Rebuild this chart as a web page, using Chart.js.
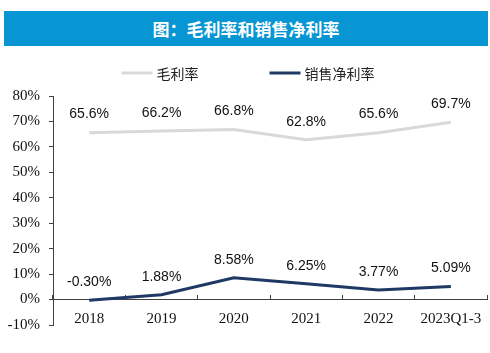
<!DOCTYPE html>
<html>
<head>
<meta charset="utf-8">
<script src="https://cdn.jsdelivr.net/npm/chart.js@4"></script>
<style>
  html, body { margin: 0; padding: 0; background: #fff; }
  #wrap { position: relative; width: 490px; height: 353px; overflow: hidden; }
  #banner {
    position: absolute; left: 4px; top: 11px; width: 484px; height: 35px;
    background: #0796d3; color: #fff; text-align: center;
    font: bold 17px "Noto Sans CJK SC", sans-serif; line-height: 35px;
    z-index: 2;
  }
  #chart { position: absolute; left: 0; top: 0; }
</style>
</head>
<body>
<div id="wrap">
  <div id="banner">图：毛利率和销售净利率</div>
  <canvas id="chart" width="490" height="353"></canvas>
</div>
<script>
// data
const years = ['2018', '2019', '2020', '2021', '2022', '2023Q1-3'];
const grossMargin = [65.6, 66.2, 66.8, 62.8, 65.6, 69.7];
const netMargin = [-0.30, 1.88, 8.58, 6.25, 3.77, 5.09];
const seriesNames = ['毛利率', '销售净利率'];
const seriesDecimals = [1, 2];

// value labels above each point
const pointLabels = {
    id: 'pointLabels',
    afterDatasetsDraw(chart) {
        const ctx = chart.ctx;
        ctx.save();
        ctx.font = '14px "Liberation Sans", Arial, sans-serif';
        ctx.fillStyle = '#111';
        ctx.textAlign = 'center';
        ctx.textBaseline = 'middle';
        chart.data.datasets.forEach((ds, i) => {
            chart.getDatasetMeta(i).data.forEach((pt, j) => {
                ctx.fillText(ds.data[j].toFixed(seriesDecimals[i]) + '%', pt.x, pt.y - 18);
            });
        });
        ctx.restore();
    }
};

// line legend above the plot
const lineLegend = {
    id: 'lineLegend',
    afterDraw(chart) {
        const ctx = chart.ctx;
        const lineW = 31, gapText = 4, gapItem = 71, y = 73;
        ctx.save();
        ctx.font = '14px "Noto Sans CJK SC", sans-serif';
        ctx.textBaseline = 'middle';
        const items = chart.data.datasets.map(ds => ({
            ds, w: lineW + gapText + ctx.measureText(ds.label).width
        }));
        const total = items.reduce((s, it) => s + it.w, 0) + gapItem * (items.length - 1);
        let x = chart.width / 2 + 3 - total / 2;
        items.forEach(it => {
            ctx.strokeStyle = it.ds.borderColor;
            ctx.lineWidth = 3;
            ctx.beginPath();
            ctx.moveTo(x, y);
            ctx.lineTo(x + lineW, y);
            ctx.stroke();
            ctx.fillStyle = '#222';
            ctx.fillText(it.ds.label, x + lineW + gapText, y + 1);
            x += it.w + gapItem;
        });
        ctx.restore();
    }
};

new Chart(document.getElementById('chart'), {
    type: 'line',
    data: {
        labels: years,
        datasets: [
            {
                label: seriesNames[0],
                data: grossMargin,
                borderColor: '#d9d9d9',
                borderWidth: 3,
                pointRadius: 0,
                tension: 0,
                fill: false
            },
            {
                label: seriesNames[1],
                data: netMargin,
                borderColor: '#1f3864',
                borderWidth: 3,
                pointRadius: 0,
                tension: 0,
                fill: false
            }
        ]
    },
    plugins: [pointLabels, lineLegend],
    options: {
        responsive: false,
        animation: false,
        layout: { padding: { top: 96, right: 3, bottom: 28, left: 0 } },
        plugins: {
            legend: { display: false },
            tooltip: { enabled: false }
        },
        scales: {
            x: {
                position: { y: 0 },
                offset: true,
                afterFit(scale) { scale.paddingLeft = 0; scale.paddingRight = 0; },
                grid: {
                    offset: true,
                    drawOnChartArea: false,
                    tickLength: -5,
                    color: '#404040'
                },
                border: { display: true, color: '#404040', width: 1 },
                ticks: {
                    padding: 16,
                    maxRotation: 0,
                    autoSkip: false,
                    color: '#111',
                    font: { family: '"Liberation Serif", "Times New Roman", serif', size: 15 }
                }
            },
            y: {
                min: -10,
                max: 80,
                afterFit(scale) { scale.width = 53; },
                grid: {
                    drawOnChartArea: false,
                    tickLength: 4,
                    color: '#404040'
                },
                border: { display: true, color: '#404040', width: 1 },
                ticks: {
                    stepSize: 10,
                    padding: 9,
                    color: '#111',
                    font: { family: '"Liberation Serif", "Times New Roman", serif', size: 15 },
                    callback: v => v + '%'
                }
            }
        }
    }
});
</script>
</body>
</html>
